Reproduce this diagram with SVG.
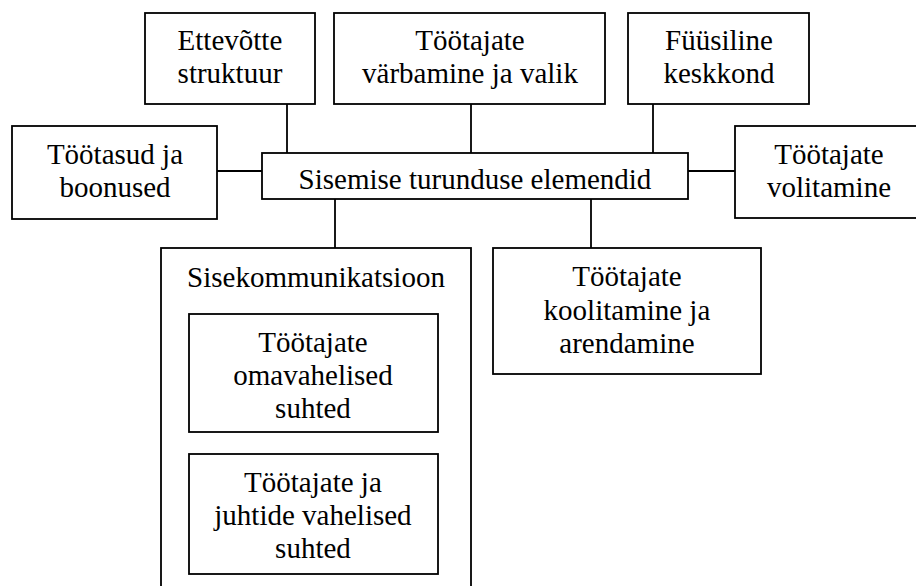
<svg xmlns="http://www.w3.org/2000/svg" width="916" height="586" viewBox="0 0 916 586">
  <style>
    .box { fill: #ffffff; stroke: #000000; stroke-width: 1.8; }
    .link { stroke: #000000; stroke-width: 1.8; fill: none; }
  </style>
  <rect width="916" height="586" fill="#ffffff"/>

  <!-- connectors -->
  <g id="connectors">
    <line class="link" x1="287" y1="104" x2="287" y2="153"/>
    <line class="link" x1="471" y1="104" x2="471" y2="153"/>
    <line class="link" x1="653" y1="104" x2="653" y2="153"/>
    <line class="link" x1="217" y1="171" x2="262" y2="171"/>
    <line class="link" x1="688" y1="171" x2="735" y2="171"/>
    <line class="link" x1="335" y1="199" x2="335" y2="248"/>
    <line class="link" x1="591" y1="199" x2="591" y2="248"/>
  </g>

  <!-- labels are placed from their left edge, widths taken from Times metrics at 29px -->
  <g id="ettevotte-struktuur">
    <rect class="box" x="145" y="13" width="170" height="91"/>
    <text x="177.6" y="50" font-family="'Liberation Serif'" font-size="29">Ettevõtte</text>
    <text x="177.6" y="83" font-family="'Liberation Serif'" font-size="29">struktuur</text>
  </g>

  <g id="varbamine-valik">
    <rect class="box" x="334" y="13" width="271" height="91"/>
    <text x="415.2" y="50" font-family="'Liberation Serif'" font-size="29">Töötajate</text>
    <text x="362.1" y="83" font-family="'Liberation Serif'" font-size="29">värbamine ja valik</text>
  </g>

  <g id="fuusiline-keskkond">
    <rect class="box" x="628" y="13" width="181" height="91"/>
    <text x="665" y="50" font-family="'Liberation Serif'" font-size="29">Füüsiline</text>
    <text x="663.4" y="83" font-family="'Liberation Serif'" font-size="29">keskkond</text>
  </g>

  <g id="tootasud-boonused">
    <rect class="box" x="12" y="126" width="205" height="93"/>
    <text x="46.9" y="164" font-family="'Liberation Serif'" font-size="29">Töötasud ja</text>
    <text x="59.4" y="197" font-family="'Liberation Serif'" font-size="29">boonused</text>
  </g>

  <g id="sisemise-turunduse-elemendid">
    <rect class="box" x="262" y="153" width="426" height="46"/>
    <text x="298.6" y="189" font-family="'Liberation Serif'" font-size="29">Sisemise turunduse elemendid</text>
  </g>

  <g id="volitamine">
    <rect class="box" x="735" y="126" width="186" height="92"/>
    <text x="774.2" y="164" font-family="'Liberation Serif'" font-size="29">Töötajate</text>
    <text x="767" y="197" font-family="'Liberation Serif'" font-size="29">volitamine</text>
  </g>

  <g id="sisekommunikatsioon">
    <rect class="box" x="161" y="248" width="310" height="350"/>
    <text x="187.1" y="287" font-family="'Liberation Serif'" font-size="29">Sisekommunikatsioon</text>
    <g id="omavahelised-suhted">
      <rect class="box" x="189" y="314" width="249" height="118"/>
      <text x="258.2" y="352" font-family="'Liberation Serif'" font-size="29">Töötajate</text>
      <text x="233.3" y="385" font-family="'Liberation Serif'" font-size="29">omavahelised</text>
      <text x="275.1" y="418" font-family="'Liberation Serif'" font-size="29">suhted</text>
    </g>
    <g id="juhtide-suhted">
      <rect class="box" x="189" y="454" width="249" height="120"/>
      <text x="244.1" y="492" font-family="'Liberation Serif'" font-size="29">Töötajate ja</text>
      <text x="214.3" y="525" font-family="'Liberation Serif'" font-size="29">juhtide vahelised</text>
      <text x="275.1" y="558" font-family="'Liberation Serif'" font-size="29">suhted</text>
    </g>
  </g>

  <g id="koolitamine-arendamine">
    <rect class="box" x="493" y="248" width="268" height="126"/>
    <text x="572.2" y="286" font-family="'Liberation Serif'" font-size="29">Töötajate</text>
    <text x="543.6" y="320" font-family="'Liberation Serif'" font-size="29">koolitamine ja</text>
    <text x="559.3" y="353" font-family="'Liberation Serif'" font-size="29">arendamine</text>
  </g>
</svg>
